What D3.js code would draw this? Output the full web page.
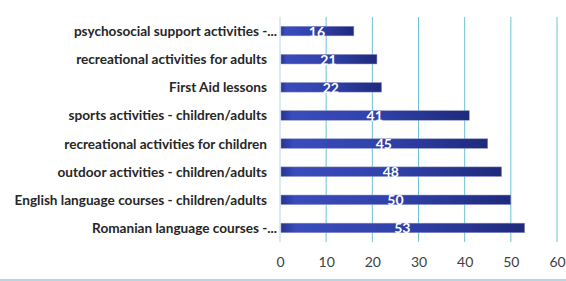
<!DOCTYPE html>
<html>
<head>
<meta charset="utf-8">
<script src="https://cdn.jsdelivr.net/npm/d3@7"></script>
<style>
  body { margin: 0; background: #fff; }
  svg { display: block; }
</style>
</head>
<body>
<script>
// categories from top to bottom
var categories = [
  'psychosocial support activities -...',
  'recreational activities for adults',
  'First Aid lessons',
  'sports activities - children/adults',
  'recreational activities for children',
  'outdoor activities - children/adults',
  'English language courses - children/adults',
  'Romanian language courses -...'
];
var values = [16, 21, 22, 41, 45, 48, 50, 53];
var ticks = [0, 10, 20, 30, 40, 50, 60];

var width = 566, height = 281;
// plot area edges (note: "top" is taken by window.top, so prefix them)
var plotLeft = 280, plotRight = 557, plotTop = 17, plotBottom = 242;

var svg = d3.select('body').append('svg')
  .attr('width', width).attr('height', height);

var defs = svg.append('defs');
var grad = defs.append('linearGradient').attr('id', 'barfill')
  .attr('x1', '0').attr('x2', '1').attr('y1', '0').attr('y2', '0');
grad.append('stop').attr('offset', '0').attr('stop-color', '#26348f');
grad.append('stop').attr('offset', '0.06').attr('stop-color', '#3a4bbd');
grad.append('stop').attr('offset', '0.5').attr('stop-color', '#3141aa');
grad.append('stop').attr('offset', '1').attr('stop-color', '#1f2a7c');

var x = d3.scaleLinear().domain([0, 60]).range([plotLeft, plotRight]);
var y = d3.scaleBand().domain(categories).range([plotTop, plotBottom]).paddingInner(0.66).paddingOuter(0.33);

// vertical gridlines
svg.append('g').selectAll('line')
  .data(ticks.slice(1))
  .join('line')
  .attr('x1', d => x(d)).attr('x2', d => x(d))
  .attr('y1', plotTop).attr('y2', plotBottom)
  .attr('stroke', '#6cc2d6').attr('stroke-width', 1);

// category axis line
svg.append('line')
  .attr('x1', x(0)).attr('x2', x(0))
  .attr('y1', plotTop).attr('y2', plotBottom)
  .attr('stroke', '#cfe2ec').attr('stroke-width', 1.5);

// bars
svg.append('g').selectAll('rect')
  .data(values)
  .join('rect')
  .attr('x', x(0) + 1)
  .attr('y', (d, i) => y(categories[i]))
  .attr('width', d => x(d) - x(0) - 1)
  .attr('height', y.bandwidth())
  .attr('fill', 'url(#barfill)')
  .attr('stroke', '#8d96c8').attr('stroke-width', 0.5);

// value labels
svg.append('g').selectAll('text')
  .data(values)
  .join('text')
  .attr('x', d => (x(0) + x(d)) / 2)
  .attr('y', (d, i) => y(categories[i]) + y.bandwidth() / 2 + 5.5)
  .attr('text-anchor', 'middle')
  .attr('font-family', 'Lato, sans-serif')
  .attr('font-weight', 'bold')
  .attr('font-size', '14px')
  .attr('fill', '#fff')
  .text(d => d);

// category labels (the truncated ones sit a bit further right, like the original)
svg.append('g').selectAll('text')
  .data(categories)
  .join('text')
  .attr('x', d => d.endsWith('...') ? 277 : 267)
  .attr('y', d => y(d) + y.bandwidth() / 2 + 5)
  .attr('text-anchor', 'end')
  .attr('font-family', 'Lato, sans-serif')
  .attr('font-weight', 'bold')
  .attr('font-size', '13.6px')
  .attr('fill', '#262626')
  .text(d => d);

// value axis labels
var xAxis = svg.append('g')
  .attr('transform', 'translate(0,' + (plotBottom + 25) + ')')
  .call(d3.axisBottom(x).tickValues(ticks).tickSize(0).tickPadding(0));
xAxis.select('.domain').remove();
xAxis.selectAll('text')
  .attr('font-family', 'Lato, sans-serif')
  .attr('font-size', '14px')
  .attr('fill', '#404040')
  .attr('dy', 0);

// bottom border
svg.append('line')
  .attr('x1', 0).attr('x2', width)
  .attr('y1', 280).attr('y2', 280)
  .attr('stroke', '#9cc9da').attr('stroke-width', 1.5);
</script>
</body>
</html>
